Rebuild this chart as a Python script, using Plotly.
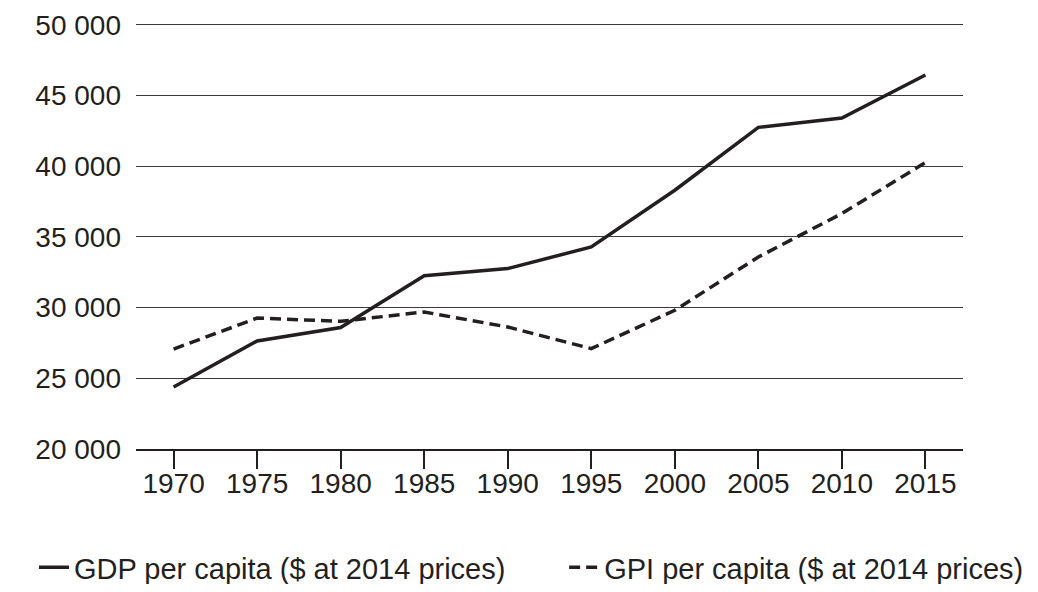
import plotly.graph_objects as go

years = [1970, 1975, 1980, 1985, 1990, 1995, 2000, 2005, 2010, 2015]
gdp_per_capita = [24390, 27640, 28590, 32260, 32760, 34290, 38300, 42750, 43410, 46450]
gpi_per_capita = [27070, 29260, 29030, 29690, 28630, 27100, 29810, 33580, 36650, 40260]
y_tick_values = [20000, 25000, 30000, 35000, 40000, 45000, 50000]
y_tick_labels = ["20 000", "25 000", "30 000", "35 000", "40 000", "45 000", "50 000"]

ink = "#231f20"
font_family = "Liberation Sans, Arial, sans-serif"

fig = go.Figure()
fig.add_trace(go.Scatter(
    x=years, y=gdp_per_capita, mode="lines",
    name="GDP per capita ($ at 2014 prices)",
    line=dict(color=ink, width=3.5), legend="legend",
))
fig.add_trace(go.Scatter(
    x=years, y=gpi_per_capita, mode="lines",
    name="GPI per capita ($ at 2014 prices)",
    line=dict(color=ink, width=3.5, dash="11px,6px"), legend="legend2",
))

legend_style = dict(
    orientation="h", xanchor="left", y=-0.2772, yanchor="middle",
    font=dict(size=29, color=ink, family=font_family),
    bgcolor="rgba(0,0,0,0)", borderwidth=0,
)

fig.update_layout(
    width=1022, height=576,
    margin=dict(l=128, r=67.3, t=13.9, b=135.3, autoexpand=False),
    paper_bgcolor="white", plot_bgcolor="white",
    font=dict(family=font_family, size=28, color=ink),
    showlegend=True,
    legend=dict(x=-0.1234, **legend_style),
    legend2=dict(x=0.5177, **legend_style),
)
fig.update_xaxes(
    range=[1967.75, 2017.25], tickvals=years, ticktext=[str(y) for y in years],
    showgrid=False, zeroline=False, automargin=False,
    showline=True, linecolor=ink, linewidth=2,
    ticks="outside", ticklen=18, tickwidth=2, tickcolor=ink,
    ticklabelstandoff=-10, ticklabeloverflow="allow",
    tickfont=dict(size=28, color=ink, family=font_family),
)
fig.update_yaxes(
    range=[20000, 50200], tickvals=y_tick_values, ticktext=y_tick_labels,
    showgrid=True, gridcolor="#3a3a3a", gridwidth=1.2, automargin=False,
    zeroline=False, showline=False, ticks="", ticklabelstandoff=14,
    ticklabeloverflow="allow",
    tickfont=dict(size=28, color=ink, family=font_family),
)

fig.write_html("out.html")
